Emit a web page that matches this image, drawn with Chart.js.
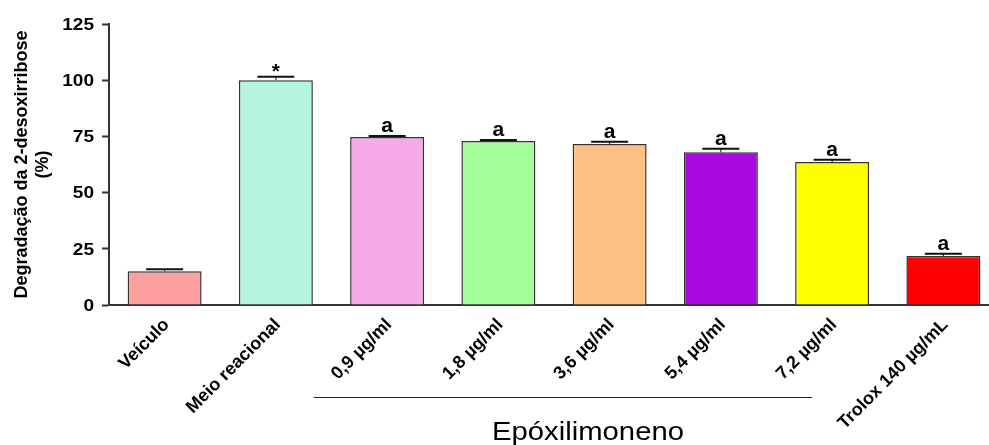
<!DOCTYPE html>
<html>
<head>
<meta charset="utf-8">
<script src="https://cdn.jsdelivr.net/npm/chart.js@4"></script>
<style>
  html, body { margin: 0; padding: 0; background: #fff; overflow: hidden; }
  #wrap { width: 1000px; height: 445px; }
</style>
</head>
<body>
<div id="wrap"><canvas id="chart" width="1000" height="445"></canvas></div>
<script>
const labels = ["Veículo", "Meio reacional", "0,9 µg/ml", "1,8 µg/ml", "3,6 µg/ml", "5,4 µg/ml", "7,2 µg/ml", "Trolox 140 µg/mL"];
const means = [15.0, 100.0, 74.7, 73.0, 71.6, 67.9, 63.6, 21.8];
const errors = [0.9, 1.5, 0.5, 0.4, 1.0, 1.6, 1.0, 1.0];
const marks = ["", "*", "a", "a", "a", "a", "a", "a"];
const colors = ["#FFA0A0", "#B5F5DF", "#F5ABE8", "#A2FF9A", "#FFC184", "#AA08E0", "#FFFF00", "#FF0000"];
const yTicks = [0, 25, 50, 75, 100, 125];
const yTitle = ["Degradação da 2-desoxirribose", "(%)"];
const groupName = "Epóxilimoneno";
const groupFirst = 2, groupLast = 6;

const FONT = "Arial, 'Liberation Sans', sans-serif";

// error bars, letters and all the text (drawn by hand so the wide look can be matched)
const decorations = {
  id: "decorations",
  afterDatasetsDraw(chart) {
    const ctx = chart.ctx;
    const y = chart.scales.y;
    const meta = chart.getDatasetMeta(0);
    ctx.save();
    meta.data.forEach((bar, i) => {
      const top = y.getPixelForValue(means[i] + errors[i]);
      const half = bar.width / 4;
      ctx.strokeStyle = "#111";
      ctx.lineWidth = 1;
      ctx.beginPath();
      ctx.moveTo(bar.x, bar.y);
      ctx.lineTo(bar.x, top);
      ctx.stroke();
      ctx.lineWidth = 2;
      ctx.beginPath();
      ctx.moveTo(bar.x - half, top);
      ctx.lineTo(bar.x + half, top);
      ctx.stroke();
      if (marks[i]) {
        ctx.fillStyle = "#000";
        ctx.font = "bold 21px " + FONT;
        ctx.textAlign = "center";
        ctx.textBaseline = "alphabetic";
        ctx.fillText(marks[i], bar.x, marks[i] === "*" ? top + 1.5 : top - 4);
      }
    });
    ctx.restore();
  },
  afterDraw(chart) {
    const ctx = chart.ctx;
    const x = chart.scales.x;
    const y = chart.scales.y;
    ctx.save();
    ctx.fillStyle = "#000";

    // y tick labels
    ctx.font = "bold 16px " + FONT;
    ctx.textAlign = "right";
    ctx.textBaseline = "alphabetic";
    yTicks.forEach((v) => {
      ctx.save();
      ctx.translate(94, y.getPixelForValue(v) + 5.7);
      ctx.scale(1.19, 1);
      ctx.fillText(String(v), 0, 0);
      ctx.restore();
    });

    // y title
    ctx.font = "bold 18px " + FONT;
    ctx.textAlign = "center";
    ctx.save();
    ctx.translate(27, (y.top + y.bottom) / 2);
    ctx.rotate(-Math.PI / 2);
    ctx.fillText(yTitle[0], 0, 0);
    ctx.fillText(yTitle[1], 0, 21);
    ctx.restore();

    // x labels
    ctx.font = "bold 18px " + FONT;
    ctx.textAlign = "right";
    ctx.textBaseline = "middle";
    labels.forEach((lab, i) => {
      ctx.save();
      ctx.translate(x.getPixelForValue(i) + 2, x.top + 17);
      ctx.rotate(-Math.PI / 4);
      ctx.fillText(lab, 0, 0);
      ctx.restore();
    });

    // group bracket and name
    const pitch = x.getPixelForValue(1) - x.getPixelForValue(0);
    const left = x.getPixelForValue(groupFirst) - pitch * 0.66;
    const right = x.getPixelForValue(groupLast) - pitch * 0.18;
    ctx.strokeStyle = "#222";
    ctx.lineWidth = 1;
    ctx.beginPath();
    ctx.moveTo(left, 397.5);
    ctx.lineTo(right, 397.5);
    ctx.stroke();
    ctx.font = "25px " + FONT;
    ctx.textAlign = "center";
    ctx.textBaseline = "alphabetic";
    ctx.save();
    ctx.translate(588, 440);
    ctx.scale(1.17, 1);
    ctx.fillText(groupName, 0, 0);
    ctx.restore();

    ctx.restore();
  }
};

new Chart(document.getElementById("chart"), {
  type: "bar",
  data: {
    labels: labels,
    datasets: [{
      data: means,
      backgroundColor: colors,
      borderColor: "#333",
      borderWidth: 1.5,
      borderSkipped: "bottom",
      barPercentage: 0.665,
      categoryPercentage: 1
    }]
  },
  options: {
    responsive: false,
    animation: false,
    layout: { padding: { top: 24, right: 1, left: 0, bottom: 0 } },
    plugins: { legend: { display: false }, tooltip: { enabled: false } },
    scales: {
      y: {
        min: 0,
        max: 125,
        afterBuildTicks: (s) => { s.ticks = yTicks.map((v) => ({ value: v })); },
        afterFit: (s) => { s.width = 109; },
        border: { color: "#333", width: 2 },
        grid: { drawOnChartArea: false, tickLength: 7, tickWidth: 2, tickColor: "#333" },
        ticks: { display: false }
      },
      x: {
        afterFit: (s) => { s.height = 140; },
        border: { color: "#333", width: 2 },
        grid: { display: false },
        ticks: { display: false }
      }
    }
  },
  plugins: [decorations]
});
</script>
</body>
</html>
